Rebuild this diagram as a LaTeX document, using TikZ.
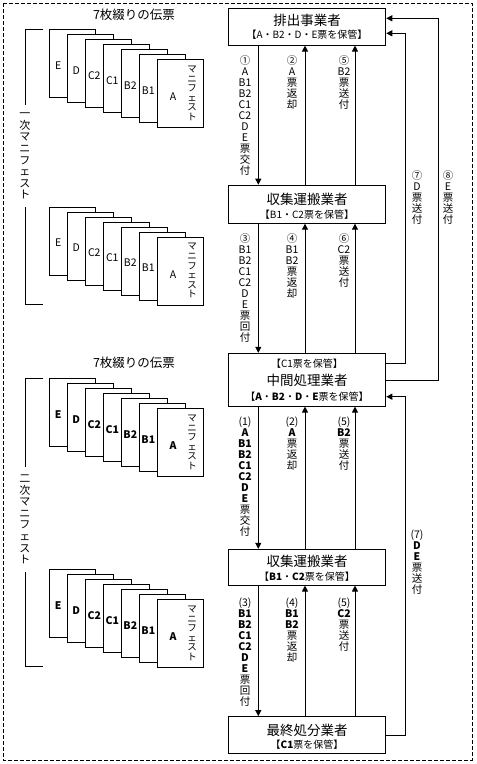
\documentclass[tikz,border=0pt]{standalone}
\usepackage{fontspec}
\setmainfont{Noto Sans CJK JP}
\usetikzlibrary{arrows.meta}
\newcommand\bfx[1]{{\bfseries #1}}
\begin{document}
\begin{tikzpicture}[x=1pt,y=-1pt,
  every node/.style={inner sep=0pt},
  party/.style={draw,line width=1pt,minimum width=157.5pt,fill=white},
  big/.style={font=\fontsize{13.5}{15}\selectfont},
  small/.style={font=\fontsize{10}{12}\selectfont},
  vlab/.style={align=center,anchor=north,font=\fontsize{10.5}{11}\selectfont},
  arr/.style={line width=1pt,-{Triangle[length=6pt,width=6pt]}},
  ln/.style={line width=1pt},
  sheet/.style={draw,line width=1pt,fill=white,minimum width=46pt,minimum height=68pt,anchor=north west},
  brk/.style={align=center,font=\fontsize{11}{11.6}\selectfont,inner ysep=8pt},
  ttl/.style={font=\fontsize{12.5}{14}\selectfont},
]
\path[use as bounding box] (0,0) rectangle (477,764);
\draw[line width=1pt,dash pattern=on 4pt off 2pt] (3,3) rectangle (472,760);

% titles
\node[ttl] (ti1) at (134,15) {7枚綴りの伝票};
\node[ttl] (ti2) at (134,363) {7枚綴りの伝票};

% sheet stacks
\foreach \s/\T/\w in {1/29.3/\mdseries,2/206.7/\mdseries,3/378.3/\bfseries,4/569.3/\bfseries}{
  \foreach \i/\l in {0/E,1/D,2/C2,3/C1,4/B2,5/B1}{
    \node[sheet] (s\s-\i) at ({49.3+18*\i},{\T+5*\i}) {};
    \node[font=\fontsize{10.5}{12}\selectfont\w] (t\s-\i) at ({58.3+18*\i},{\T+36+5*\i}) {\l};
  }
  \node[sheet] (s\s-6) at (157.3,{\T+30}) {};
  \node[font=\fontsize{10.5}{12}\selectfont\w] (t\s-6) at (173,{\T+67.7}) {A};
  \node[align=center,font=\fontsize{9.5}{9.6}\selectfont] (m\s) at (192,{\T+64}) {マ\\ニ\\フ\\ェ\\ス\\ト};
}

% brackets
\node[brk] (k1) at (25,156) {一\\次\\マ\\ニ\\フ\\ェ\\ス\\ト};
\draw[ln] (43.3,29.3) -- (25,29.3) -- (k1.north);
\draw[ln] (k1.south) -- (25,304) -- (43.3,304);
\node[brk] (k2) at (25,519.5) {二\\次\\マ\\ニ\\フ\\ェ\\ス\\ト};
\draw[ln] (43.3,378.3) -- (25,378.3) -- (k2.north);
\draw[ln] (k2.south) -- (25,666.7) -- (43.3,666.7);

% parties
\node[party,minimum height=36.7pt] (ex) at (307,26.7) {};
\node[big] (ex1) at (307,20) {排出事業者};
\node[small] (ex2) at (307,35) {【A・B2・D・E票を保管】};

\node[party,minimum height=38pt] (co1) at (307,204.2) {};
\node[big] (co1a) at (307,199.3) {収集運搬業者};
\node[small] (co1b) at (307,215) {【B1・C2票を保管】};

\node[party,minimum height=52.7pt] (mid) at (307,379.7) {};
\node[small] (mida) at (307,363.3) {【C1票を保管】};
\node[big] (midb) at (307,380.7) {中間処理業者};
\node[small] (midc) at (307,396.7) {【\bfx{A}・\bfx{B2}・\bfx{D}・\bfx{E}票を保管】};

\node[party,minimum height=35.7pt] (co2) at (307,567.2) {};
\node[big] (co2a) at (307,561.7) {収集運搬業者};
\node[small] (co2b) at (307,576.7) {【\bfx{B1}・\bfx{C2}票を保管】};

\node[party,minimum height=37.3pt] (fin) at (307,735.3) {};
\node[big] (fina) at (307,730) {最終処分業者};
\node[small] (finb) at (307,745) {【\bfx{C1}票を保管】};

% arrow columns
\coordinate (xa) at (258.3,0);
\coordinate (xb) at (305,0);
\coordinate (xc) at (355,0);

\draw[arr] (ex.south -| xa) -- (co1.north -| xa);
\draw[arr] (co1.north -| xb) -- (ex.south -| xb);
\draw[arr] (co1.north -| xc) -- (ex.south -| xc);

\draw[arr] (co1.south -| xa) -- (mid.north -| xa);
\draw[arr] (mid.north -| xb) -- (co1.south -| xb);
\draw[arr] (mid.north -| xc) -- (co1.south -| xc);

\draw[arr] (mid.south -| xa) -- (co2.north -| xa);
\draw[arr] (co2.north -| xb) -- (mid.south -| xb);
\draw[arr] (co2.north -| xc) -- (mid.south -| xc);

\draw[arr] (co2.south -| xa) -- (fin.north -| xa);
\draw[arr] (fin.north -| xb) -- (co2.south -| xb);
\draw[arr] (fin.north -| xc) -- (co2.south -| xc);

% return lines
\coordinate (r7a) at (405,363.3);
\coordinate (r7b) at (405,33.3);
\draw[arr] (mid.east |- r7a) -- (r7a) -- (r7b) -- (ex.east |- r7b);
\coordinate (r8a) at (438.3,380.7);
\coordinate (r8b) at (438.3,18.3);
\draw[arr] (mid.east |- r8a) -- (r8a) -- (r8b) -- (ex.east |- r8b);
\coordinate (q7a) at (405.7,735);
\coordinate (q7b) at (405.7,396.7);
\draw[arr] (fin.east |- q7a) -- (q7a) -- (q7b) -- (mid.east |- q7b);

% labels section 1
\node[vlab] (l1) at (245,55) {①\\A\\B1\\B2\\C1\\C2\\D\\E\\票\\交\\付};
\node[vlab] (l2) at (292,55) {②\\A\\票\\返\\却};
\node[vlab] (l5) at (344,55) {⑤\\B2\\票\\送\\付};
% section 2
\node[vlab] (l3) at (245,233) {③\\B1\\B2\\C1\\C2\\D\\E\\票\\回\\付};
\node[vlab] (l4) at (292,233) {④\\B1\\B2\\票\\返\\却};
\node[vlab] (l6) at (344,233) {⑥\\C2\\票\\送\\付};
% right
\node[vlab] (l7) at (417,170) {⑦\\D\\票\\送\\付};
\node[vlab] (l8) at (448,170) {⑧\\E\\票\\送\\付};
% section 3
\node[vlab] (n1) at (245,417) {(1)\\\bfx{A}\\\bfx{B1}\\\bfx{B2}\\\bfx{C1}\\\bfx{C2}\\\bfx{D}\\\bfx{E}\\票\\交\\付};
\node[vlab] (n2) at (292,417) {(2)\\\bfx{A}\\票\\返\\却};
\node[vlab] (n5) at (344,417) {(5)\\\bfx{B2}\\票\\送\\付};
% section 4
\node[vlab] (n3) at (245,598) {(3)\\\bfx{B1}\\\bfx{B2}\\\bfx{C1}\\\bfx{C2}\\\bfx{D}\\\bfx{E}\\票\\回\\付};
\node[vlab] (n4) at (292,598) {(4)\\\bfx{B1}\\\bfx{B2}\\票\\返\\却};
\node[vlab] (n6) at (344,598) {(5)\\\bfx{C2}\\票\\送\\付};
% right (7)
\node[vlab] (n7) at (417,530) {(7)\\\bfx{D}\\\bfx{E}\\票\\送\\付};
\end{tikzpicture}
\end{document}
